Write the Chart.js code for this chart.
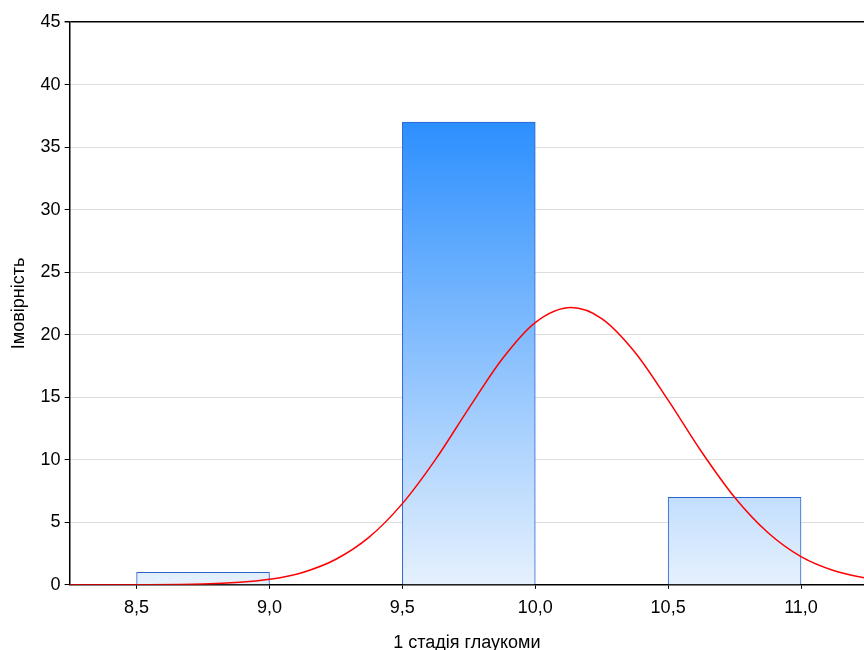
<!DOCTYPE html>
<html>
<head>
<meta charset="utf-8">
<script src="https://cdn.jsdelivr.net/npm/chart.js@4/dist/chart.umd.min.js"></script>
<style>
  html, body { margin: 0; padding: 0; background: #fff; }
  #wrap { width: 864px; height: 650px; }
</style>
</head>
<body>
<div id="wrap"><canvas id="myChart"></canvas></div>
<script>
// histogram bins (centres) and counts
var binCenters = [8.75, 9.25, 9.75, 10.25, 10.75];
var counts = [1, 0, 37, 0, 7];

// fitted normal curve
var curveX = [8.25, 8.5, 8.75, 9.0, 9.125, 9.25, 9.375, 9.5, 9.625, 9.75, 9.875, 10.0, 10.135, 10.25, 10.375, 10.5, 10.625, 10.75, 10.875, 11.0, 11.125, 11.25];
var curveY = [0.0, 0.01, 0.06, 0.44, 0.99, 2.04, 3.81, 6.49, 10.03, 14.11, 18.04, 20.97, 22.17, 21.29, 18.6, 14.77, 10.66, 7.0, 4.18, 2.25, 1.12, 0.5];

var xTicks = [8.5, 9.0, 9.5, 10.0, 10.5, 11.0];
var yTicks = [0, 5, 10, 15, 20, 25, 30, 35, 40, 45];

var font = { family: "'Liberation Sans', Arial, sans-serif", size: 18 };

function barFill(ctx) {
  var chart = ctx.chart;
  var area = chart.chartArea;
  if (!area) return '#7ab8fb';
  var y = chart.scales.y;
  var top = Math.max.apply(null, counts);
  var g = chart.ctx.createLinearGradient(0, y.getPixelForValue(0), 0, y.getPixelForValue(top));
  g.addColorStop(0, '#e6f1fd');
  g.addColorStop(1, '#2c8fff');
  return g;
}

var barData = binCenters.map(function (c, i) { return { x: c, y: counts[i] || null }; });
var lineData = curveX.map(function (c, i) { return { x: c, y: curveY[i] }; });

var config = {
  type: 'bar',
  data: {
    datasets: [{
      type: 'line',
      data: lineData,
      borderColor: '#ff0000',
      borderWidth: 1.5,
      pointRadius: 0,
      cubicInterpolationMode: 'monotone',
      fill: false,
      order: 1
    }, {
      type: 'bar',
      data: barData,
      backgroundColor: barFill,
      borderColor: '#2a62d0',
      borderWidth: 1,
      barPercentage: 1,
      categoryPercentage: 1,
      grouped: false,
      order: 2
    }]
  },
  options: {
    responsive: true,
    maintainAspectRatio: false,
    animation: false,
    layout: { padding: { top: 22, right: 0, left: 8, bottom: -4 } },
    plugins: { legend: { display: false }, tooltip: { enabled: false } },
    scales: {
      x: {
        type: 'linear',
        offset: false,
        min: 8.248,
        max: 11.237,
        afterBuildTicks: function (scale) {
          scale.ticks = xTicks.map(function (v) { return { value: v }; });
        },
        ticks: {
          color: '#000',
          font: font,
          padding: 8,
          maxRotation: 0,
          callback: function (v) { return v.toFixed(1).replace('.', ','); }
        },
        grid: { offset: false, drawOnChartArea: false, tickLength: 4, tickColor: '#000' },
        border: { color: '#000', width: 1.5 },
        title: { display: true, text: '1 стадія глаукоми', color: '#000', font: font, padding: { top: 6, bottom: 0 } }
      },
      y: {
        min: 0,
        max: 45,
        afterBuildTicks: function (scale) {
          scale.ticks = yTicks.map(function (v) { return { value: v }; });
        },
        ticks: { color: '#000', font: font, padding: 4 },
        grid: {
          color: function (c) { return c.tick && c.tick.value === 45 ? '#000' : '#dddddd'; },
          lineWidth: function (c) { return c.tick && c.tick.value === 45 ? 1.5 : 1; },
          tickLength: 5,
          tickColor: '#000'
        },
        border: { color: '#000', width: 1.5 },
        title: { display: true, text: 'Імовірність', color: '#000', font: font, padding: { top: 0, bottom: 7 } }
      }
    }
  }
};

var myChart = new Chart(document.getElementById('myChart'), config);
</script>
</body>
</html>
